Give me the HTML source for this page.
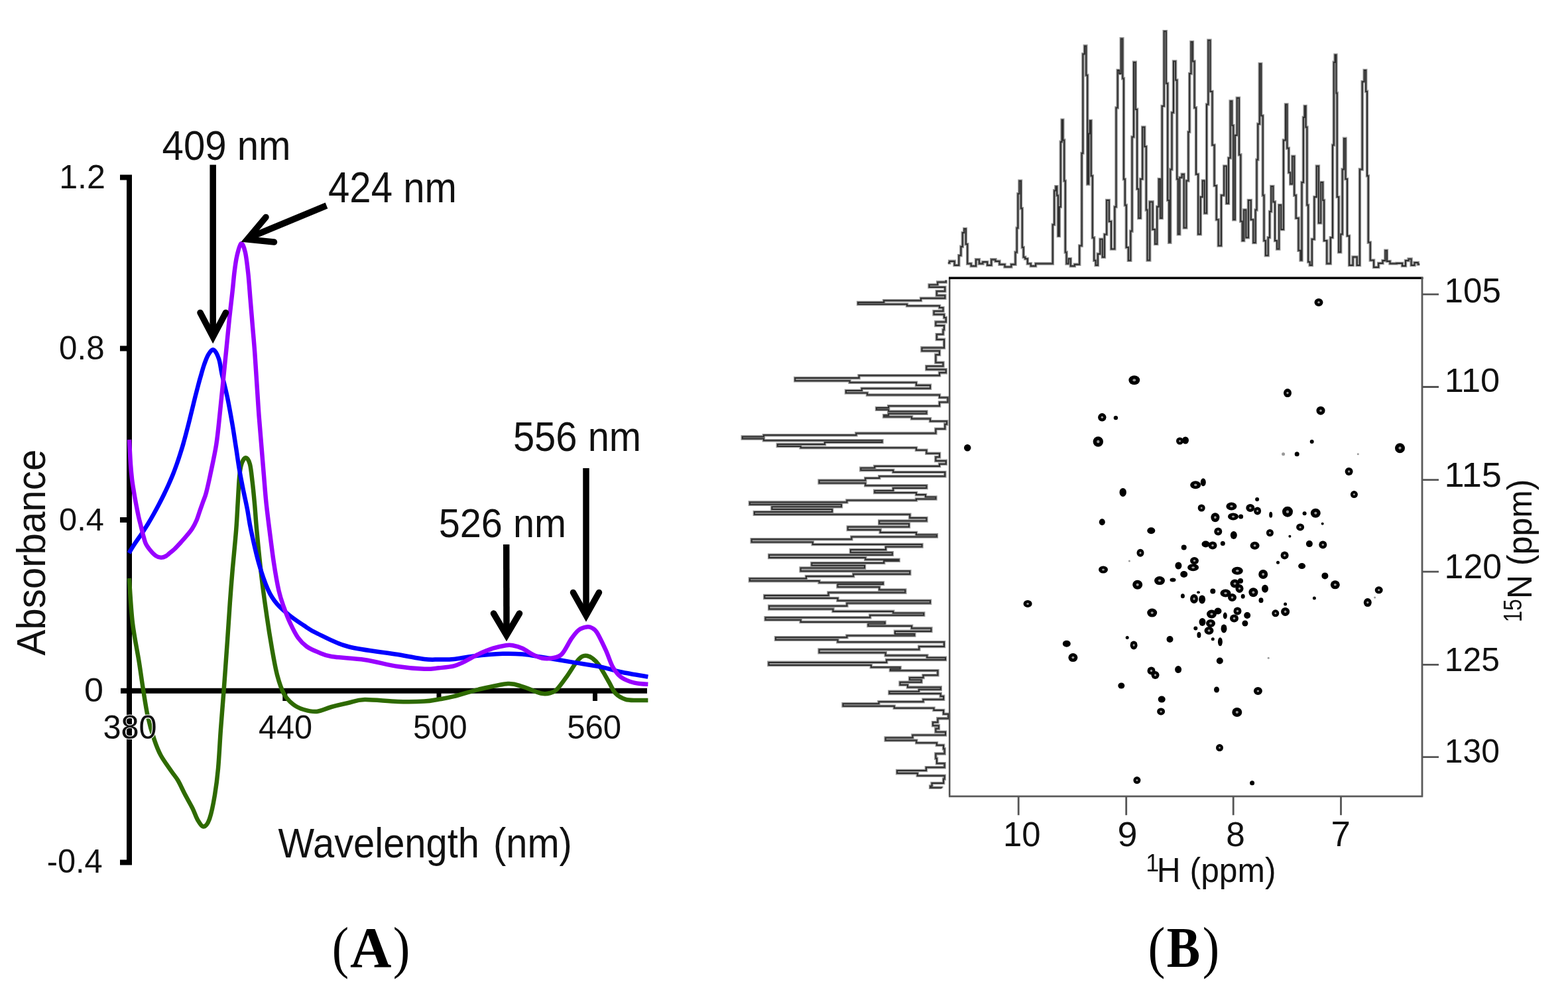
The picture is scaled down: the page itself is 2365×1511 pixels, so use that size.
<!DOCTYPE html>
<html><head><meta charset="utf-8"><title>Figure</title><style>html,body{margin:0;padding:0;background:#fff;overflow:hidden;}svg{display:block;}</style></head><body>
<svg width="2365" height="1511" viewBox="0 0 2365 1511">
<rect width="2365" height="1511" fill="#fff"/>
<g id="panelA">
<text x="89.17" y="283.70" font-family='"Liberation Sans", Arial, sans-serif' font-weight="normal" font-size="49.70" textLength="69.85" lengthAdjust="spacingAndGlyphs" fill="#111">1.2</text>
<text x="89.07" y="542.10" font-family='"Liberation Sans", Arial, sans-serif' font-weight="normal" font-size="49.70" textLength="68.57" lengthAdjust="spacingAndGlyphs" fill="#111">0.8</text>
<text x="89.09" y="799.50" font-family='"Liberation Sans", Arial, sans-serif' font-weight="normal" font-size="48.69" textLength="67.84" lengthAdjust="spacingAndGlyphs" fill="#111">0.4</text>
<text x="126.97" y="1058.30" font-family='"Liberation Sans", Arial, sans-serif' font-weight="normal" font-size="49.70" textLength="28.97" lengthAdjust="spacingAndGlyphs" fill="#111">0</text>
<text x="70.73" y="1316.00" font-family='"Liberation Sans", Arial, sans-serif' font-weight="normal" font-size="49.84" textLength="83.99" lengthAdjust="spacingAndGlyphs" fill="#111">-0.4</text>
<text x="389.98" y="1114.40" font-family='"Liberation Sans", Arial, sans-serif' font-weight="normal" font-size="49.70" textLength="81.22" lengthAdjust="spacingAndGlyphs" fill="#111">440</text>
<text x="623.04" y="1114.40" font-family='"Liberation Sans", Arial, sans-serif' font-weight="normal" font-size="49.70" textLength="81.57" lengthAdjust="spacingAndGlyphs" fill="#111">500</text>
<text x="855.13" y="1114.40" font-family='"Liberation Sans", Arial, sans-serif' font-weight="normal" font-size="49.70" textLength="82.09" lengthAdjust="spacingAndGlyphs" fill="#111">560</text>
<text x="419.45" y="1293.20" font-family='"Liberation Sans", Arial, sans-serif' font-weight="normal" font-size="63.52" textLength="303.59" lengthAdjust="spacingAndGlyphs" fill="#111">Wavelength</text>
<text x="743.91" y="1293.20" font-family='"Liberation Sans", Arial, sans-serif' font-weight="normal" font-size="63.52" textLength="118.98" lengthAdjust="spacingAndGlyphs" fill="#111">(nm)</text>
<text transform="rotate(-90)" x="-988.61" y="68.40" font-family='"Liberation Sans", Arial, sans-serif' font-weight="normal" font-size="60.58" textLength="310.90" lengthAdjust="spacingAndGlyphs" fill="#111">Absorbance</text>
<g stroke="#000" fill="none">
<path d="M181,267.5 H195 V1300.5 H181" stroke-width="8"/>
<path d="M181,525.5 H195 M181,784 H195" stroke-width="8"/>
<path d="M182,1041.7 H976" stroke-width="8"/>
<path d="M429.8,1041 V1057 M662,1041 V1057 M897.5,1041 V1057" stroke-width="7"/>
</g>
<path d="M194.8,872.0 C195.7,883.2 197.4,917.9 199.9,939.0 C202.4,960.1 207.2,982.0 209.8,998.5 C212.4,1015.0 213.5,1024.5 215.7,1038.0 C217.9,1051.5 220.0,1066.8 222.8,1079.7 C225.6,1092.6 229.4,1105.5 232.7,1115.4 C236.0,1125.3 238.3,1131.4 242.6,1139.3 C246.9,1147.2 254.2,1156.7 258.5,1163.0 C262.8,1169.3 265.2,1171.4 268.5,1177.0 C271.8,1182.6 274.8,1189.8 278.4,1196.8 C282.0,1203.8 287.0,1212.1 290.3,1218.7 C293.6,1225.3 295.4,1231.9 298.2,1236.5 C301.0,1241.1 304.2,1246.8 307.2,1246.5 C310.2,1246.2 313.3,1242.5 316.1,1234.6 C318.9,1226.6 321.9,1211.4 324.0,1198.8 C326.1,1186.2 327.5,1175.6 329.0,1159.1 C330.5,1142.6 331.5,1119.8 333.0,1099.6 C334.5,1079.4 336.2,1059.8 337.8,1038.0 C339.4,1016.2 341.3,990.3 342.8,968.8 C344.3,947.3 345.5,927.4 346.8,909.2 C348.1,891.0 349.1,878.0 350.7,859.6 C352.3,841.2 354.9,815.8 356.2,799.1 C357.5,782.4 357.8,772.6 358.6,759.4 C359.4,746.2 360.1,729.6 361.0,719.7 C361.9,709.8 362.6,704.8 364.2,699.9 C365.8,695.0 368.4,690.3 370.5,690.3 C372.6,690.3 375.2,693.7 376.9,699.9 C378.6,706.1 379.6,717.8 380.8,727.7 C382.0,737.6 382.9,747.5 384.0,759.4 C385.1,771.3 385.5,780.8 387.2,799.1 C388.9,817.5 391.9,847.9 394.4,869.5 C396.9,891.1 399.8,910.8 402.4,929.0 C405.0,947.2 407.7,963.8 410.3,978.7 C412.9,993.6 415.2,1007.1 418.2,1018.4 C421.2,1029.7 424.2,1038.9 428.2,1046.2 C432.2,1053.5 437.0,1058.0 442.0,1062.0 C447.0,1066.0 452.0,1068.2 458.0,1070.0 C464.0,1071.8 470.8,1073.7 477.8,1073.0 C484.8,1072.3 492.1,1068.2 500.0,1066.0 C507.9,1063.8 516.7,1061.8 525.0,1060.0 C533.3,1058.2 537.5,1055.3 550.0,1055.0 C562.5,1054.7 585.0,1057.6 600.0,1058.0 C615.0,1058.4 629.7,1058.2 640.0,1057.6 C650.3,1057.0 654.6,1055.7 662.0,1054.5 C669.4,1053.3 674.5,1052.7 684.4,1050.2 C694.3,1047.8 707.8,1043.0 721.4,1039.8 C735.0,1036.6 754.7,1031.7 765.8,1031.0 C776.9,1030.3 781.8,1033.7 788.0,1035.4 C794.2,1037.1 798.1,1039.3 803.0,1041.0 C807.9,1042.7 813.1,1045.1 817.6,1045.8 C822.1,1046.5 826.3,1046.0 830.0,1045.0 C833.7,1044.0 835.7,1043.9 839.8,1039.8 C843.9,1035.7 849.7,1027.5 854.6,1020.6 C859.5,1013.7 865.5,1003.5 869.4,998.4 C873.3,993.3 875.3,991.6 878.0,990.0 C880.7,988.4 883.0,988.5 885.7,989.0 C888.4,989.5 891.0,990.7 894.0,993.0 C897.0,995.3 899.4,997.0 903.4,1002.8 C907.4,1008.6 914.0,1020.8 918.2,1028.0 C922.4,1035.2 924.4,1041.4 928.6,1045.8 C932.8,1050.2 938.2,1052.9 943.4,1054.6 C948.6,1056.3 954.3,1055.8 960.0,1056.0 C965.7,1056.2 974.5,1056.1 977.4,1056.1" fill="none" stroke="#2e6a00" stroke-width="6.5" stroke-linejoin="round"/>
<path d="M194.5,834.0 C195.9,831.7 200.0,824.8 203.2,820.0 C206.4,815.2 210.3,810.0 213.6,805.0 C216.9,800.0 220.1,795.0 223.2,790.0 C226.2,785.0 229.1,780.0 231.9,775.0 C234.7,770.0 237.4,765.0 240.0,760.0 C242.6,755.0 245.2,750.0 247.6,745.0 C250.0,740.0 252.4,735.0 254.6,730.0 C256.8,725.0 259.0,720.0 261.0,715.0 C263.0,710.0 264.8,705.0 266.6,700.0 C268.4,695.0 270.0,690.0 271.6,685.0 C273.2,680.0 274.8,675.0 276.2,670.0 C277.6,665.0 279.0,660.0 280.3,655.0 C281.6,650.0 282.9,645.0 284.2,640.0 C285.5,635.0 286.7,630.0 287.9,625.0 C289.1,620.0 290.4,615.0 291.6,610.0 C292.8,605.0 294.0,600.0 295.3,595.0 C296.6,590.0 297.9,585.0 299.2,580.0 C300.5,575.0 301.9,570.0 303.4,565.0 C304.8,560.0 306.1,555.1 307.9,550.0 C309.7,544.9 312.0,538.2 314.4,534.5 C316.8,530.8 319.4,526.4 322.0,527.5 C324.6,528.6 328.0,535.2 330.1,541.2 C332.2,547.2 332.5,554.0 334.6,563.7 C336.8,573.4 340.4,586.7 343.0,599.4 C345.6,612.1 348.3,627.4 350.5,640.0 C352.7,652.6 354.2,663.7 356.0,675.0 C357.8,686.3 359.2,697.7 361.0,708.0 C362.8,718.3 364.5,727.1 366.5,737.0 C368.5,746.9 370.9,757.0 372.9,767.4 C374.9,777.8 375.6,785.4 378.5,799.1 C381.4,812.8 386.1,834.6 390.4,849.6 C394.7,864.6 399.7,879.0 404.3,889.3 C408.9,899.6 412.6,904.6 418.2,911.2 C423.8,917.8 431.4,923.7 438.0,929.0 C444.6,934.3 451.4,938.7 458.0,943.0 C464.6,947.3 466.6,949.6 477.8,954.9 C489.0,960.2 504.6,969.6 525.0,975.0 C545.4,980.4 580.8,983.8 600.0,987.0 C619.2,990.2 629.7,992.8 640.0,994.0 C650.3,995.2 654.6,994.5 662.0,994.5 C669.4,994.5 675.7,994.8 684.4,994.0 C693.1,993.2 701.7,990.9 714.0,989.5 C726.3,988.1 746.1,986.3 758.4,985.8 C770.7,985.3 778.1,985.7 788.0,986.6 C797.9,987.5 805.3,989.0 817.6,991.0 C829.9,993.0 847.2,995.9 862.0,998.4 C876.8,1000.9 894.1,1003.3 906.4,1005.8 C918.7,1008.3 924.2,1010.7 936.0,1013.2 C947.8,1015.7 970.5,1019.4 977.4,1020.6" fill="none" stroke="#0000ff" stroke-width="6.5" stroke-linejoin="round"/>
<path d="M195.0,663.0 C195.3,669.2 196.3,690.2 197.0,700.0 C197.7,709.8 198.2,715.0 199.0,722.0 C199.8,729.0 201.0,735.7 202.0,742.0 C203.0,748.3 204.0,753.7 205.2,760.0 C206.4,766.3 208.0,774.4 209.2,779.9 C210.4,785.4 211.4,788.7 212.5,793.1 C213.6,797.5 214.6,801.9 215.8,806.3 C217.0,810.7 218.0,815.7 219.8,819.6 C221.6,823.5 223.9,826.4 226.4,829.5 C228.9,832.6 232.2,836.2 235.0,838.1 C237.8,840.0 240.3,840.6 242.9,840.7 C245.5,840.8 248.2,839.7 250.5,838.5 C252.8,837.3 254.4,835.2 256.5,833.5 C258.6,831.8 260.4,830.7 263.2,828.0 C266.0,825.3 270.1,820.8 273.2,817.4 C276.3,814.0 279.1,810.8 281.8,807.5 C284.6,804.2 287.3,801.4 289.7,797.6 C292.1,793.9 294.3,789.6 296.3,785.0 C298.3,780.4 299.9,774.5 301.6,769.8 C303.3,765.0 304.8,760.9 306.3,756.5 C307.9,752.1 309.2,749.7 310.9,743.3 C312.6,736.9 314.1,730.2 316.7,718.1 C319.2,706.0 323.7,686.4 326.2,670.5 C328.7,654.6 330.0,638.8 331.7,622.9 C333.4,607.0 334.9,591.1 336.5,575.2 C338.1,559.3 339.7,543.5 341.3,527.6 C342.9,511.7 344.4,494.7 346.0,480.0 C347.6,465.3 349.3,451.1 350.6,439.4 C351.9,427.7 352.5,418.9 353.6,410.0 C354.7,401.1 355.7,393.1 357.4,386.0 C359.1,378.9 361.5,368.3 363.6,367.3 C365.7,366.3 368.0,372.3 369.8,379.9 C371.6,387.5 373.1,400.9 374.4,413.0 C375.7,425.1 376.6,439.4 377.7,452.6 C378.8,465.8 379.9,479.1 381.0,492.3 C382.1,505.5 383.2,516.8 384.3,532.0 C385.4,547.2 386.6,567.8 387.7,583.7 C388.8,599.6 389.5,612.8 390.6,627.3 C391.7,641.8 393.0,656.4 394.2,671.0 C395.4,685.6 396.6,700.7 397.8,714.7 C399.0,728.7 399.8,740.9 401.2,755.0 C402.6,769.1 404.5,783.9 406.5,799.6 C408.5,815.3 410.8,834.1 413.1,849.3 C415.4,864.5 418.0,879.6 420.5,890.6 C423.0,901.6 425.1,907.1 428.0,915.4 C430.9,923.7 434.3,932.5 437.9,940.2 C441.5,947.9 445.4,955.9 449.5,961.7 C453.6,967.5 457.7,971.4 462.7,975.0 C467.7,978.6 473.1,980.8 479.3,983.3 C485.5,985.8 488.2,988.0 500.0,990.0 C511.8,992.0 533.3,992.5 550.0,995.0 C566.7,997.5 585.0,1002.7 600.0,1005.0 C615.0,1007.3 629.6,1008.4 640.0,1008.8 C650.4,1009.2 654.8,1008.0 662.2,1007.3 C669.6,1006.5 678.2,1005.8 684.4,1004.3 C690.6,1002.8 693.0,1001.3 699.2,998.4 C705.4,995.5 714.0,990.0 721.4,986.6 C728.8,983.2 736.7,979.9 743.6,977.7 C750.5,975.5 758.1,974.0 763.0,973.2 C767.9,972.5 769.0,972.5 773.2,973.2 C777.4,974.0 783.1,975.5 788.0,977.7 C792.9,979.9 797.9,984.1 802.8,986.6 C807.7,989.1 812.7,991.5 817.6,992.5 C822.5,993.5 827.5,993.5 832.4,992.5 C837.3,991.5 842.3,991.5 847.2,986.6 C852.1,981.7 857.7,969.0 862.0,962.9 C866.3,956.8 869.2,952.9 873.0,950.0 C876.8,947.1 881.6,946.0 884.9,945.5 C888.2,945.0 890.4,945.6 893.0,947.0 C895.6,948.4 897.0,948.4 900.5,954.0 C904.0,959.6 909.8,972.0 913.8,980.6 C917.8,989.2 920.5,999.1 924.2,1005.8 C927.9,1012.5 931.6,1016.9 936.0,1020.6 C940.4,1024.3 945.9,1026.3 950.8,1028.0 C955.7,1029.7 961.2,1030.4 965.6,1031.0 C970.0,1031.6 975.4,1031.6 977.4,1031.7" fill="none" stroke="#9900ff" stroke-width="6.5" stroke-linejoin="round"/>
<g stroke="#000" fill="none" stroke-width="9.5" stroke-linejoin="miter" stroke-miterlimit="10">
<path d="M321.2,248.6 V505"/><path d="M302,471.5 L321.2,508 L340.5,471.5" stroke-linecap="round"/>
<path d="M492.5,310 L378,357.5"/><path d="M401,327.5 L373,361 L413.5,365" stroke-linecap="round"/>
<path d="M763.7,821 L764,955"/><path d="M744.5,925 L764,958 L783.5,925" stroke-linecap="round"/>
<path d="M884,706 V925"/><path d="M864.5,893.5 L884,928 L903.5,893.5" stroke-linecap="round"/>
</g>
<text x="155.45" y="1114.40" font-family='"Liberation Sans", Arial, sans-serif' font-weight="normal" font-size="49.70" textLength="81.15" lengthAdjust="spacingAndGlyphs" fill="#111" stroke="#fff" stroke-width="2.2" paint-order="stroke">380</text>
<text x="244.57" y="240.60" font-family='"Liberation Sans", Arial, sans-serif' font-weight="normal" font-size="62.59" textLength="193.97" lengthAdjust="spacingAndGlyphs" fill="#111">409 nm</text>
<text x="494.97" y="305.20" font-family='"Liberation Sans", Arial, sans-serif' font-weight="normal" font-size="64.02" textLength="193.97" lengthAdjust="spacingAndGlyphs" fill="#111">424 nm</text>
<text x="661.69" y="810.00" font-family='"Liberation Sans", Arial, sans-serif' font-weight="normal" font-size="61.15" textLength="192.41" lengthAdjust="spacingAndGlyphs" fill="#111">526 nm</text>
<text x="773.88" y="680.20" font-family='"Liberation Sans", Arial, sans-serif' font-weight="normal" font-size="62.30" textLength="193.24" lengthAdjust="spacingAndGlyphs" fill="#111">556 nm</text>
<text x="500.65" y="1457.70" font-family='"Liberation Serif", "Times New Roman", serif' font-weight="normal" font-size="87.40" textLength="25.41" lengthAdjust="spacingAndGlyphs" fill="#000">(</text>
<text x="528.06" y="1457.70" font-family='"Liberation Serif", "Times New Roman", serif' font-weight="bold" font-size="87.40" textLength="62.48" lengthAdjust="spacingAndGlyphs" fill="#000">A</text>
<text x="592.72" y="1457.70" font-family='"Liberation Serif", "Times New Roman", serif' font-weight="normal" font-size="87.40" textLength="25.67" lengthAdjust="spacingAndGlyphs" fill="#000">)</text>
</g>
<g id="panelB">
<path d="M1429.8,396.4 H1432.2 V393.9 H1434.7 H1439.6 V400.0 H1444.5 H1446.3 V385.3 H1448.2 H1449.4 V371.9 H1450.6 H1451.8 V351.0 H1453.1 H1454.3 V345.0 H1455.5 H1456.8 V368.2 H1458.0 H1459.2 V397.6 H1460.4 H1464.7 V401.3 H1469.0 H1472.0 V391.4 H1475.1 H1476.9 V397.6 H1478.8 H1482.4 V395.1 H1486.1 H1489.2 V400.0 H1492.3 H1495.3 V391.4 H1498.4 H1501.5 V393.9 H1504.5 H1507.5 V398.8 H1510.6 H1515.5 V402.5 H1520.4 H1525.3 V398.8 H1530.2 H1531.5 V380.4 H1532.7 H1533.7 V343.7 H1534.6 H1535.4 V292.3 H1536.3 H1537.5 V272.7 H1538.8 H1540.0 V314.3 H1541.2 H1541.8 V373.1 H1542.5 H1543.7 V387.8 H1544.9 H1546.2 V390.2 H1547.4 H1549.8 V397.6 H1552.3 H1554.8 V401.3 H1557.2 H1562.1 V397.6 H1567.0 H1573.1 V397.6 H1579.2 H1582.8 V397.6 H1586.5 H1587.8 V338.8 H1589.0 H1590.2 V287.4 H1591.4 H1592.4 V281.2 H1593.4 H1594.2 V294.7 H1595.1 H1595.9 V355.9 H1596.8 H1597.8 V311.9 H1598.8 H1599.8 V213.9 H1600.7 H1601.6 V180.8 H1602.5 H1603.3 V211.4 H1604.2 H1605.2 V272.7 H1606.1 H1606.8 V380.4 H1607.4 H1608.6 V397.6 H1609.8 H1611.7 V390.2 H1613.5 H1614.8 V401.3 H1616.0 H1620.8 V398.8 H1625.7 H1628.2 V370.6 H1630.6 H1631.6 V231.0 H1632.6 H1633.4 V81.6 H1634.3 H1635.9 V69.4 H1637.5 H1638.3 V113.5 H1639.2 H1640.2 V277.6 H1641.2 H1642.1 V201.6 H1642.9 H1643.8 V182.0 H1644.8 H1645.7 V265.3 H1646.5 H1647.8 V358.4 H1649.0 H1650.2 V392.7 H1651.4 H1652.7 V400.0 H1653.9 H1655.8 V382.9 H1657.6 H1659.4 V360.8 H1661.2 H1662.8 V387.8 H1664.4 H1665.9 V353.5 H1667.4 H1669.2 V302.1 H1671.0 H1672.8 V333.9 H1674.7 H1676.0 V375.5 H1677.2 H1678.7 V375.5 H1680.1 H1681.3 V311.9 H1682.6 H1683.5 V162.5 H1684.5 H1685.7 V106.1 H1686.9 H1688.2 V111.0 H1689.4 H1690.8 V58.4 H1692.3 H1693.3 V118.4 H1694.3 H1694.9 V270.2 H1695.5 H1696.8 V309.4 H1698.0 H1698.8 V373.1 H1699.7 H1701.9 V392.7 H1704.1 H1705.3 V348.6 H1706.5 H1707.5 V206.5 H1708.5 H1710.0 V93.9 H1711.4 H1712.7 V164.9 H1713.9 H1715.1 V284.9 H1716.3 H1717.4 V329.0 H1718.6 H1720.3 V270.0 H1722.0 H1723.2 V191.8 H1724.5 H1726.3 V221.0 H1728.2 H1728.8 V316.6 H1729.4 H1730.6 V392.5 H1731.8 H1734.2 V304.4 H1736.7 H1738.6 V346.0 H1740.4 H1742.2 V368.0 H1744.0 H1745.2 V311.7 H1746.5 H1747.8 V270.0 H1749.0 H1750.2 V328.9 H1751.4 H1752.7 V160.0 H1753.9 H1755.7 V47.3 H1757.5 H1758.8 V125.7 H1760.0 H1761.2 V302.0 H1762.4 H1763.2 V365.6 H1764.0 H1765.3 V255.4 H1766.6 H1767.5 V169.7 H1768.5 H1770.0 V92.6 H1771.5 H1773.1 V120.8 H1774.7 H1775.3 V270.0 H1775.9 H1776.8 V353.3 H1777.8 H1779.3 V267.7 H1780.8 H1782.7 V262.8 H1784.5 H1785.7 V343.5 H1786.9 H1789.3 V272.6 H1791.8 H1792.4 V199.0 H1793.0 H1794.2 V111.0 H1795.5 H1796.5 V63.3 H1797.4 H1798.9 V92.6 H1800.4 H1801.6 V162.4 H1802.8 H1804.0 V262.8 H1805.3 H1807.2 V353.3 H1809.0 H1810.8 V297.0 H1812.6 H1813.8 V272.6 H1815.0 H1816.8 V321.5 H1818.7 H1820.0 V157.5 H1821.2 H1822.4 V60.8 H1823.6 H1825.4 V138.0 H1827.3 H1828.5 V218.7 H1829.7 H1831.6 V280.0 H1833.4 H1834.7 V331.3 H1835.9 H1837.7 V370.5 H1839.5 H1842.0 V294.6 H1844.4 H1846.2 V250.5 H1848.1 H1849.9 V306.8 H1851.8 H1853.0 V238.3 H1854.2 H1855.7 V152.6 H1857.2 H1858.2 V189.3 H1859.1 H1860.3 V331.3 H1861.6 H1862.8 V204.0 H1864.0 H1865.8 V147.7 H1867.7 H1868.9 V233.4 H1870.1 H1871.3 V333.8 H1872.6 H1873.8 V363.0 H1875.0 H1876.2 V316.6 H1877.5 H1879.3 V358.2 H1881.1 H1882.9 V302.0 H1884.8 H1886.7 V331.3 H1888.5 H1890.4 V366.0 H1892.3 H1893.6 V316.6 H1894.9 H1895.5 V240.7 H1896.1 H1897.3 V186.9 H1898.6 H1899.8 V96.3 H1901.0 H1902.2 V174.6 H1903.5 H1904.7 V294.6 H1905.9 H1906.5 V363.0 H1907.1 H1908.9 V385.2 H1910.8 H1912.7 V358.2 H1914.5 H1915.1 V319.0 H1915.7 H1917.3 V281.1 H1918.9 H1920.3 V304.4 H1921.8 H1923.0 V363.0 H1924.3 H1926.1 V375.4 H1927.9 H1929.2 V309.3 H1930.4 H1932.2 V346.0 H1934.1 H1935.9 V211.4 H1937.7 H1939.0 V157.5 H1940.2 H1941.4 V223.6 H1942.6 H1943.8 V260.3 H1945.1 H1946.3 V277.5 H1947.5 H1949.3 V235.8 H1951.2 H1952.2 V294.6 H1953.2 H1954.7 V328.9 H1956.1 H1958.5 V377.8 H1961.0 H1961.6 V392.5 H1962.2 H1963.5 V275.0 H1964.7 H1965.9 V177.1 H1967.1 H1967.7 V160.0 H1968.3 H1969.5 V191.8 H1970.8 H1971.4 V309.3 H1972.0 H1973.2 V395.0 H1974.5 H1975.7 V399.9 H1976.9 H1978.8 V360.7 H1980.6 H1982.4 V297.0 H1984.2 H1985.8 V250.5 H1987.4 H1988.9 V336.2 H1990.4 H1992.2 V275.0 H1994.0 H1995.2 V302.0 H1996.5 H1997.1 V363.0 H1997.7 H2001.3 V397.4 H2005.0 H2006.8 V358.2 H2008.7 H2010.0 V218.7 H2011.2 H2011.8 V93.9 H2012.4 H2013.6 V82.8 H2014.8 H2015.4 V140.4 H2016.1 H2016.7 V297.0 H2017.3 H2019.2 V380.3 H2021.0 H2022.2 V353.3 H2023.4 H2024.7 V255.4 H2025.9 H2027.1 V208.9 H2028.3 H2029.5 V270.0 H2030.8 H2032.0 V355.8 H2033.2 H2035.1 V399.9 H2036.9 H2040.6 V387.6 H2044.2 H2046.7 V399.9 H2049.1 H2050.9 V255.4 H2052.8 H2054.7 V123.2 H2056.5 H2057.7 V106.1 H2058.9 H2060.2 V137.9 H2061.4 H2062.0 V265.2 H2062.6 H2063.8 V365.6 H2065.0 H2066.8 V392.5 H2068.7 H2072.1 V403.0 H2075.4 H2079.2 V397.0 H2083.0 H2085.5 V393.0 H2088.0 H2089.4 V377.8 H2090.9 H2091.9 V394.0 H2093.0 H2096.5 V397.5 H2100.0 H2106.5 V397.0 H2113.0 H2115.0 V401.0 H2117.0 H2120.0 V393.0 H2123.0 H2124.6 V390.5 H2126.2 H2128.6 V400.0 H2131.0 H2133.5 V396.0 H2136.0 H2138.7 V398.5 H2141.3" fill="none" stroke="#999" stroke-width="4.6" stroke-linejoin="miter"/>
<path d="M1426.7,422.6 V425.4 H1414.2 V428.1 V429.5 H1401.6 V430.9 V433.0 H1425.3 V435.1 V439.3 H1412.8 V443.5 V445.6 H1425.3 V447.7 V449.8 H1389.0 V451.9 V453.2 H1333.2 V454.6 V456.0 H1294.2 V457.4 V458.8 H1368.1 V460.2 V461.2 H1417.0 V462.3 V464.1 H1422.5 V465.8 V469.3 H1408.6 V472.8 V474.2 H1424.0 V475.6 V479.1 H1426.7 V482.6 V485.4 H1411.4 V488.1 V490.9 H1424.0 V493.7 V497.2 H1422.5 V500.7 V504.2 H1412.8 V507.7 V511.9 H1424.0 V516.0 V518.8 H1424.0 V521.6 V524.4 H1390.5 V527.2 V529.3 H1417.0 V531.4 V534.9 H1411.4 V538.4 V541.2 H1411.4 V544.0 V546.8 H1422.5 V549.5 V552.3 H1397.4 V555.1 V557.2 H1426.7 V559.3 V562.1 H1417.0 V564.9 V566.3 H1295.6 V567.7 V570.1 H1199.3 V572.5 V574.2 H1281.6 V576.0 V576.7 H1382.0 V577.4 V580.9 H1403.0 V584.4 V585.8 H1299.8 V587.2 V589.0 H1276.0 V590.7 V592.5 H1308.1 V594.2 V595.6 H1417.0 V597.0 V599.5 H1429.5 V601.9 V606.5 H1417.0 V611.2 V612.2 H1340.2 V613.3 V615.0 H1322.1 V616.7 V617.8 H1340.2 V618.8 V620.5 H1397.4 V622.3 V623.7 H1340.2 V625.1 V626.2 H1333.2 V627.2 V628.6 H1375.1 V630.0 V631.4 H1403.0 V632.8 V635.2 H1428.1 V637.7 V639.8 H1425.3 V641.9 V646.8 H1411.4 V651.6 V653.4 H1291.4 V655.1 V656.2 H1151.9 V657.2 V658.6 H1119.8 V660.0 V661.4 H1151.9 V662.8 V664.2 H1330.5 V665.6 V667.0 H1244.0 V668.4 V670.1 H1172.8 V671.9 V672.9 H1207.7 V673.9 V675.3 H1382.0 V676.7 V678.8 H1397.4 V680.9 V683.7 H1417.0 V686.5 V689.3 H1411.4 V692.1 V694.9 H1426.7 V697.7 V699.8 H1417.0 V701.9 V703.0 H1319.3 V704.0 V705.7 H1298.4 V707.4 V709.1 H1347.2 V710.9 V712.0 H1425.3 V713.0 V715.1 H1425.3 V717.2 V718.2 H1326.3 V719.3 V721.0 H1305.3 V722.8 V724.5 H1235.6 V726.3 V728.4 H1305.3 V730.5 V732.2 H1397.4 V733.9 V736.0 H1347.2 V738.1 V739.9 H1319.3 V741.6 V743.0 H1382.0 V744.4 V746.1 H1396.0 V747.9 V749.6 H1411.4 V751.4 V752.5 H1382.0 V753.5 V754.5 H1277.4 V755.6 V757.4 H1130.9 V759.1 V760.8 H1269.0 V762.5 V764.2 H1164.4 V766.0 V768.1 H1255.1 V770.2 V772.0 H1137.9 V773.7 V775.8 H1372.3 V777.9 V781.0 H1397.4 V784.2 V785.6 H1326.3 V787.0 V789.7 H1371.0 V792.4 V794.5 H1278.8 V796.5 V798.9 H1327.7 V801.2 V803.0 H1382.0 V804.7 V806.4 H1412.8 V808.1 V809.5 H1284.4 V810.9 V813.3 H1133.7 V815.8 V817.5 H1225.8 V819.3 V821.0 H1390.5 V822.8 V824.5 H1336.0 V826.3 V829.1 H1283.0 V831.9 V833.2 H1345.8 V834.6 V836.7 H1160.2 V838.8 V840.9 H1305.3 V843.0 V843.7 H1355.6 V844.4 V845.8 H1333.2 V847.2 V849.0 H1224.4 V850.7 V852.8 H1304.0 V854.9 V856.6 H1207.7 V858.4 V861.2 H1372.3 V864.0 V865.7 H1287.2 V867.4 V869.1 H1216.0 V870.9 V872.6 H1130.9 V874.4 V876.1 H1235.6 V877.9 V878.6 H1331.9 V879.3 V881.0 H1263.5 V882.8 V885.2 H1326.3 V887.7 V889.5 H1365.3 V891.2 V893.6 H1249.5 V896.0 V898.1 H1153.3 V900.2 V902.0 H1263.5 V903.7 V905.8 H1403.0 V907.9 V909.6 H1277.4 V911.4 V913.8 H1160.2 V916.3 V918.4 H1256.5 V920.5 V921.9 H1347.2 V923.2 V924.6 H1393.2 V926.0 V927.8 H1312.3 V929.5 V931.2 H1154.6 V933.0 V934.8 H1207.7 V936.5 V937.9 H1334.6 V939.3 V940.7 H1309.5 V942.1 V943.9 H1375.1 V945.6 V947.4 H1404.4 V949.1 V951.9 H1350.0 V954.6 V956.0 H1379.3 V957.4 V958.5 H1277.4 V959.5 V961.2 H1170.0 V963.0 V964.8 H1263.5 V966.5 V968.2 H1424.0 V970.0 V971.4 H1424.0 V972.8 V974.9 H1386.3 V977.0 V979.5 H1235.6 V981.9 V984.2 H1335.7 V986.6 V988.4 H1398.3 V990.2 V991.7 H1426.0 V993.1 V994.9 H1337.2 V996.7 V998.9 H1159.5 V1001.1 V1003.0 H1313.9 V1004.8 V1006.2 H1357.6 V1007.7 V1008.8 H1343.0 V1009.9 V1011.3 H1414.4 V1012.8 V1014.6 H1414.4 V1016.4 V1018.2 H1392.5 V1020.0 V1021.9 H1372.1 V1023.7 V1025.2 H1389.6 V1026.6 V1028.8 H1357.6 V1031.0 V1032.8 H1369.0 V1034.6 V1036.4 H1418.7 V1038.3 V1039.8 H1386.0 V1041.2 V1042.7 H1341.5 V1044.1 V1045.9 H1418.7 V1047.7 V1049.9 H1423.1 V1052.1 V1054.7 H1392.5 V1057.2 V1058.3 H1325.5 V1059.4 V1061.2 H1271.6 V1063.0 V1064.8 H1348.8 V1066.6 V1067.7 H1408.5 V1068.8 V1071.0 H1423.1 V1073.2 V1076.8 H1430.4 V1080.5 V1083.4 H1414.4 V1086.3 V1089.2 H1407.1 V1092.1 V1094.3 H1415.8 V1096.5 V1098.7 H1411.4 V1100.9 V1103.8 H1426.0 V1106.7 V1108.5 H1376.5 V1110.3 V1112.5 H1335.7 V1114.7 V1116.5 H1382.3 V1118.3 V1120.2 H1412.9 V1122.0 V1123.8 H1423.1 V1125.6 V1129.2 H1424.6 V1132.9 V1136.6 H1411.4 V1140.2 V1143.8 H1413.0 V1147.5 V1151.2 H1424.6 V1154.8 V1157.3 H1396.9 V1159.8 V1162.0 H1353.2 V1164.2 V1166.1 H1383.8 V1167.9 V1169.7 H1424.6 V1171.5 V1174.8 H1423.1 V1178.0 V1181.0 H1405.6 V1183.9 V1185.5 H1403.2 V1187.0 V1187.8 H1420.2 V1188.5" fill="none" stroke="#999" stroke-width="4.6" stroke-linejoin="miter"/>
<path d="M1429.8,396.4 H1432.2 V393.9 H1434.7 H1439.6 V400.0 H1444.5 H1446.3 V385.3 H1448.2 H1449.4 V371.9 H1450.6 H1451.8 V351.0 H1453.1 H1454.3 V345.0 H1455.5 H1456.8 V368.2 H1458.0 H1459.2 V397.6 H1460.4 H1464.7 V401.3 H1469.0 H1472.0 V391.4 H1475.1 H1476.9 V397.6 H1478.8 H1482.4 V395.1 H1486.1 H1489.2 V400.0 H1492.3 H1495.3 V391.4 H1498.4 H1501.5 V393.9 H1504.5 H1507.5 V398.8 H1510.6 H1515.5 V402.5 H1520.4 H1525.3 V398.8 H1530.2 H1531.5 V380.4 H1532.7 H1533.7 V343.7 H1534.6 H1535.4 V292.3 H1536.3 H1537.5 V272.7 H1538.8 H1540.0 V314.3 H1541.2 H1541.8 V373.1 H1542.5 H1543.7 V387.8 H1544.9 H1546.2 V390.2 H1547.4 H1549.8 V397.6 H1552.3 H1554.8 V401.3 H1557.2 H1562.1 V397.6 H1567.0 H1573.1 V397.6 H1579.2 H1582.8 V397.6 H1586.5 H1587.8 V338.8 H1589.0 H1590.2 V287.4 H1591.4 H1592.4 V281.2 H1593.4 H1594.2 V294.7 H1595.1 H1595.9 V355.9 H1596.8 H1597.8 V311.9 H1598.8 H1599.8 V213.9 H1600.7 H1601.6 V180.8 H1602.5 H1603.3 V211.4 H1604.2 H1605.2 V272.7 H1606.1 H1606.8 V380.4 H1607.4 H1608.6 V397.6 H1609.8 H1611.7 V390.2 H1613.5 H1614.8 V401.3 H1616.0 H1620.8 V398.8 H1625.7 H1628.2 V370.6 H1630.6 H1631.6 V231.0 H1632.6 H1633.4 V81.6 H1634.3 H1635.9 V69.4 H1637.5 H1638.3 V113.5 H1639.2 H1640.2 V277.6 H1641.2 H1642.1 V201.6 H1642.9 H1643.8 V182.0 H1644.8 H1645.7 V265.3 H1646.5 H1647.8 V358.4 H1649.0 H1650.2 V392.7 H1651.4 H1652.7 V400.0 H1653.9 H1655.8 V382.9 H1657.6 H1659.4 V360.8 H1661.2 H1662.8 V387.8 H1664.4 H1665.9 V353.5 H1667.4 H1669.2 V302.1 H1671.0 H1672.8 V333.9 H1674.7 H1676.0 V375.5 H1677.2 H1678.7 V375.5 H1680.1 H1681.3 V311.9 H1682.6 H1683.5 V162.5 H1684.5 H1685.7 V106.1 H1686.9 H1688.2 V111.0 H1689.4 H1690.8 V58.4 H1692.3 H1693.3 V118.4 H1694.3 H1694.9 V270.2 H1695.5 H1696.8 V309.4 H1698.0 H1698.8 V373.1 H1699.7 H1701.9 V392.7 H1704.1 H1705.3 V348.6 H1706.5 H1707.5 V206.5 H1708.5 H1710.0 V93.9 H1711.4 H1712.7 V164.9 H1713.9 H1715.1 V284.9 H1716.3 H1717.4 V329.0 H1718.6 H1720.3 V270.0 H1722.0 H1723.2 V191.8 H1724.5 H1726.3 V221.0 H1728.2 H1728.8 V316.6 H1729.4 H1730.6 V392.5 H1731.8 H1734.2 V304.4 H1736.7 H1738.6 V346.0 H1740.4 H1742.2 V368.0 H1744.0 H1745.2 V311.7 H1746.5 H1747.8 V270.0 H1749.0 H1750.2 V328.9 H1751.4 H1752.7 V160.0 H1753.9 H1755.7 V47.3 H1757.5 H1758.8 V125.7 H1760.0 H1761.2 V302.0 H1762.4 H1763.2 V365.6 H1764.0 H1765.3 V255.4 H1766.6 H1767.5 V169.7 H1768.5 H1770.0 V92.6 H1771.5 H1773.1 V120.8 H1774.7 H1775.3 V270.0 H1775.9 H1776.8 V353.3 H1777.8 H1779.3 V267.7 H1780.8 H1782.7 V262.8 H1784.5 H1785.7 V343.5 H1786.9 H1789.3 V272.6 H1791.8 H1792.4 V199.0 H1793.0 H1794.2 V111.0 H1795.5 H1796.5 V63.3 H1797.4 H1798.9 V92.6 H1800.4 H1801.6 V162.4 H1802.8 H1804.0 V262.8 H1805.3 H1807.2 V353.3 H1809.0 H1810.8 V297.0 H1812.6 H1813.8 V272.6 H1815.0 H1816.8 V321.5 H1818.7 H1820.0 V157.5 H1821.2 H1822.4 V60.8 H1823.6 H1825.4 V138.0 H1827.3 H1828.5 V218.7 H1829.7 H1831.6 V280.0 H1833.4 H1834.7 V331.3 H1835.9 H1837.7 V370.5 H1839.5 H1842.0 V294.6 H1844.4 H1846.2 V250.5 H1848.1 H1849.9 V306.8 H1851.8 H1853.0 V238.3 H1854.2 H1855.7 V152.6 H1857.2 H1858.2 V189.3 H1859.1 H1860.3 V331.3 H1861.6 H1862.8 V204.0 H1864.0 H1865.8 V147.7 H1867.7 H1868.9 V233.4 H1870.1 H1871.3 V333.8 H1872.6 H1873.8 V363.0 H1875.0 H1876.2 V316.6 H1877.5 H1879.3 V358.2 H1881.1 H1882.9 V302.0 H1884.8 H1886.7 V331.3 H1888.5 H1890.4 V366.0 H1892.3 H1893.6 V316.6 H1894.9 H1895.5 V240.7 H1896.1 H1897.3 V186.9 H1898.6 H1899.8 V96.3 H1901.0 H1902.2 V174.6 H1903.5 H1904.7 V294.6 H1905.9 H1906.5 V363.0 H1907.1 H1908.9 V385.2 H1910.8 H1912.7 V358.2 H1914.5 H1915.1 V319.0 H1915.7 H1917.3 V281.1 H1918.9 H1920.3 V304.4 H1921.8 H1923.0 V363.0 H1924.3 H1926.1 V375.4 H1927.9 H1929.2 V309.3 H1930.4 H1932.2 V346.0 H1934.1 H1935.9 V211.4 H1937.7 H1939.0 V157.5 H1940.2 H1941.4 V223.6 H1942.6 H1943.8 V260.3 H1945.1 H1946.3 V277.5 H1947.5 H1949.3 V235.8 H1951.2 H1952.2 V294.6 H1953.2 H1954.7 V328.9 H1956.1 H1958.5 V377.8 H1961.0 H1961.6 V392.5 H1962.2 H1963.5 V275.0 H1964.7 H1965.9 V177.1 H1967.1 H1967.7 V160.0 H1968.3 H1969.5 V191.8 H1970.8 H1971.4 V309.3 H1972.0 H1973.2 V395.0 H1974.5 H1975.7 V399.9 H1976.9 H1978.8 V360.7 H1980.6 H1982.4 V297.0 H1984.2 H1985.8 V250.5 H1987.4 H1988.9 V336.2 H1990.4 H1992.2 V275.0 H1994.0 H1995.2 V302.0 H1996.5 H1997.1 V363.0 H1997.7 H2001.3 V397.4 H2005.0 H2006.8 V358.2 H2008.7 H2010.0 V218.7 H2011.2 H2011.8 V93.9 H2012.4 H2013.6 V82.8 H2014.8 H2015.4 V140.4 H2016.1 H2016.7 V297.0 H2017.3 H2019.2 V380.3 H2021.0 H2022.2 V353.3 H2023.4 H2024.7 V255.4 H2025.9 H2027.1 V208.9 H2028.3 H2029.5 V270.0 H2030.8 H2032.0 V355.8 H2033.2 H2035.1 V399.9 H2036.9 H2040.6 V387.6 H2044.2 H2046.7 V399.9 H2049.1 H2050.9 V255.4 H2052.8 H2054.7 V123.2 H2056.5 H2057.7 V106.1 H2058.9 H2060.2 V137.9 H2061.4 H2062.0 V265.2 H2062.6 H2063.8 V365.6 H2065.0 H2066.8 V392.5 H2068.7 H2072.1 V403.0 H2075.4 H2079.2 V397.0 H2083.0 H2085.5 V393.0 H2088.0 H2089.4 V377.8 H2090.9 H2091.9 V394.0 H2093.0 H2096.5 V397.5 H2100.0 H2106.5 V397.0 H2113.0 H2115.0 V401.0 H2117.0 H2120.0 V393.0 H2123.0 H2124.6 V390.5 H2126.2 H2128.6 V400.0 H2131.0 H2133.5 V396.0 H2136.0 H2138.7 V398.5 H2141.3" fill="none" stroke="#2e2e2e" stroke-width="2.0" stroke-linejoin="miter"/>
<path d="M1426.7,422.6 V425.4 H1414.2 V428.1 V429.5 H1401.6 V430.9 V433.0 H1425.3 V435.1 V439.3 H1412.8 V443.5 V445.6 H1425.3 V447.7 V449.8 H1389.0 V451.9 V453.2 H1333.2 V454.6 V456.0 H1294.2 V457.4 V458.8 H1368.1 V460.2 V461.2 H1417.0 V462.3 V464.1 H1422.5 V465.8 V469.3 H1408.6 V472.8 V474.2 H1424.0 V475.6 V479.1 H1426.7 V482.6 V485.4 H1411.4 V488.1 V490.9 H1424.0 V493.7 V497.2 H1422.5 V500.7 V504.2 H1412.8 V507.7 V511.9 H1424.0 V516.0 V518.8 H1424.0 V521.6 V524.4 H1390.5 V527.2 V529.3 H1417.0 V531.4 V534.9 H1411.4 V538.4 V541.2 H1411.4 V544.0 V546.8 H1422.5 V549.5 V552.3 H1397.4 V555.1 V557.2 H1426.7 V559.3 V562.1 H1417.0 V564.9 V566.3 H1295.6 V567.7 V570.1 H1199.3 V572.5 V574.2 H1281.6 V576.0 V576.7 H1382.0 V577.4 V580.9 H1403.0 V584.4 V585.8 H1299.8 V587.2 V589.0 H1276.0 V590.7 V592.5 H1308.1 V594.2 V595.6 H1417.0 V597.0 V599.5 H1429.5 V601.9 V606.5 H1417.0 V611.2 V612.2 H1340.2 V613.3 V615.0 H1322.1 V616.7 V617.8 H1340.2 V618.8 V620.5 H1397.4 V622.3 V623.7 H1340.2 V625.1 V626.2 H1333.2 V627.2 V628.6 H1375.1 V630.0 V631.4 H1403.0 V632.8 V635.2 H1428.1 V637.7 V639.8 H1425.3 V641.9 V646.8 H1411.4 V651.6 V653.4 H1291.4 V655.1 V656.2 H1151.9 V657.2 V658.6 H1119.8 V660.0 V661.4 H1151.9 V662.8 V664.2 H1330.5 V665.6 V667.0 H1244.0 V668.4 V670.1 H1172.8 V671.9 V672.9 H1207.7 V673.9 V675.3 H1382.0 V676.7 V678.8 H1397.4 V680.9 V683.7 H1417.0 V686.5 V689.3 H1411.4 V692.1 V694.9 H1426.7 V697.7 V699.8 H1417.0 V701.9 V703.0 H1319.3 V704.0 V705.7 H1298.4 V707.4 V709.1 H1347.2 V710.9 V712.0 H1425.3 V713.0 V715.1 H1425.3 V717.2 V718.2 H1326.3 V719.3 V721.0 H1305.3 V722.8 V724.5 H1235.6 V726.3 V728.4 H1305.3 V730.5 V732.2 H1397.4 V733.9 V736.0 H1347.2 V738.1 V739.9 H1319.3 V741.6 V743.0 H1382.0 V744.4 V746.1 H1396.0 V747.9 V749.6 H1411.4 V751.4 V752.5 H1382.0 V753.5 V754.5 H1277.4 V755.6 V757.4 H1130.9 V759.1 V760.8 H1269.0 V762.5 V764.2 H1164.4 V766.0 V768.1 H1255.1 V770.2 V772.0 H1137.9 V773.7 V775.8 H1372.3 V777.9 V781.0 H1397.4 V784.2 V785.6 H1326.3 V787.0 V789.7 H1371.0 V792.4 V794.5 H1278.8 V796.5 V798.9 H1327.7 V801.2 V803.0 H1382.0 V804.7 V806.4 H1412.8 V808.1 V809.5 H1284.4 V810.9 V813.3 H1133.7 V815.8 V817.5 H1225.8 V819.3 V821.0 H1390.5 V822.8 V824.5 H1336.0 V826.3 V829.1 H1283.0 V831.9 V833.2 H1345.8 V834.6 V836.7 H1160.2 V838.8 V840.9 H1305.3 V843.0 V843.7 H1355.6 V844.4 V845.8 H1333.2 V847.2 V849.0 H1224.4 V850.7 V852.8 H1304.0 V854.9 V856.6 H1207.7 V858.4 V861.2 H1372.3 V864.0 V865.7 H1287.2 V867.4 V869.1 H1216.0 V870.9 V872.6 H1130.9 V874.4 V876.1 H1235.6 V877.9 V878.6 H1331.9 V879.3 V881.0 H1263.5 V882.8 V885.2 H1326.3 V887.7 V889.5 H1365.3 V891.2 V893.6 H1249.5 V896.0 V898.1 H1153.3 V900.2 V902.0 H1263.5 V903.7 V905.8 H1403.0 V907.9 V909.6 H1277.4 V911.4 V913.8 H1160.2 V916.3 V918.4 H1256.5 V920.5 V921.9 H1347.2 V923.2 V924.6 H1393.2 V926.0 V927.8 H1312.3 V929.5 V931.2 H1154.6 V933.0 V934.8 H1207.7 V936.5 V937.9 H1334.6 V939.3 V940.7 H1309.5 V942.1 V943.9 H1375.1 V945.6 V947.4 H1404.4 V949.1 V951.9 H1350.0 V954.6 V956.0 H1379.3 V957.4 V958.5 H1277.4 V959.5 V961.2 H1170.0 V963.0 V964.8 H1263.5 V966.5 V968.2 H1424.0 V970.0 V971.4 H1424.0 V972.8 V974.9 H1386.3 V977.0 V979.5 H1235.6 V981.9 V984.2 H1335.7 V986.6 V988.4 H1398.3 V990.2 V991.7 H1426.0 V993.1 V994.9 H1337.2 V996.7 V998.9 H1159.5 V1001.1 V1003.0 H1313.9 V1004.8 V1006.2 H1357.6 V1007.7 V1008.8 H1343.0 V1009.9 V1011.3 H1414.4 V1012.8 V1014.6 H1414.4 V1016.4 V1018.2 H1392.5 V1020.0 V1021.9 H1372.1 V1023.7 V1025.2 H1389.6 V1026.6 V1028.8 H1357.6 V1031.0 V1032.8 H1369.0 V1034.6 V1036.4 H1418.7 V1038.3 V1039.8 H1386.0 V1041.2 V1042.7 H1341.5 V1044.1 V1045.9 H1418.7 V1047.7 V1049.9 H1423.1 V1052.1 V1054.7 H1392.5 V1057.2 V1058.3 H1325.5 V1059.4 V1061.2 H1271.6 V1063.0 V1064.8 H1348.8 V1066.6 V1067.7 H1408.5 V1068.8 V1071.0 H1423.1 V1073.2 V1076.8 H1430.4 V1080.5 V1083.4 H1414.4 V1086.3 V1089.2 H1407.1 V1092.1 V1094.3 H1415.8 V1096.5 V1098.7 H1411.4 V1100.9 V1103.8 H1426.0 V1106.7 V1108.5 H1376.5 V1110.3 V1112.5 H1335.7 V1114.7 V1116.5 H1382.3 V1118.3 V1120.2 H1412.9 V1122.0 V1123.8 H1423.1 V1125.6 V1129.2 H1424.6 V1132.9 V1136.6 H1411.4 V1140.2 V1143.8 H1413.0 V1147.5 V1151.2 H1424.6 V1154.8 V1157.3 H1396.9 V1159.8 V1162.0 H1353.2 V1164.2 V1166.1 H1383.8 V1167.9 V1169.7 H1424.6 V1171.5 V1174.8 H1423.1 V1178.0 V1181.0 H1405.6 V1183.9 V1185.5 H1403.2 V1187.0 V1187.8 H1420.2 V1188.5" fill="none" stroke="#2e2e2e" stroke-width="2.0" stroke-linejoin="miter"/>
<path d="M1432.2,1201 V419.5" stroke="#505050" stroke-width="2.6" fill="none"/>
<path d="M1431,419.3 H2146.5" stroke="#000" stroke-width="3.6" fill="none"/>
<path d="M2145,418 V1201 M1431,1200.9 H2146.3" stroke="#5a5a5a" stroke-width="2.8" fill="none"/>
<path d="M2146,443.8 H2170 M2146,583.5 H2170 M2146,723.6 H2170 M2146,862.2 H2170 M2146,1002.4 H2170 M2146,1141.6 H2170" stroke="#555" stroke-width="2.8"/>
<path d="M1536.2,1201 V1229.3 M1698.7,1201 V1229.3 M1860.2,1201 V1229.3 M2022.5,1201 V1229.3" stroke="#555" stroke-width="2.8"/>
<ellipse cx="1710.8" cy="573.3" rx="8.4" ry="7" fill="#000"/>
<ellipse cx="1710.8" cy="573.3" rx="2.4" ry="2.0" fill="#9a9a9a"/>
<ellipse cx="1662.3" cy="629.3" rx="6.2" ry="6.2" fill="#000"/>
<ellipse cx="1662.3" cy="629.3" rx="1.7" ry="1.7" fill="#9a9a9a"/>
<ellipse cx="1682.9" cy="630.1" rx="3.2" ry="3.2" fill="#000"/>
<ellipse cx="1656.3" cy="666" rx="7.7" ry="7.7" fill="#000"/>
<ellipse cx="1656.3" cy="666" rx="2.2" ry="2.2" fill="#9a9a9a"/>
<ellipse cx="1779.5" cy="665" rx="5.5" ry="5.5" fill="#000"/>
<ellipse cx="1779.5" cy="665" rx="1.5" ry="1.5" fill="#9a9a9a"/>
<ellipse cx="1788" cy="664" rx="5" ry="5.5" fill="#000"/>
<ellipse cx="1459.2" cy="675.3" rx="5.2" ry="5.2" fill="#000"/>
<ellipse cx="1693.7" cy="742.4" rx="5.2" ry="6.5" fill="#000"/>
<ellipse cx="1662.3" cy="787.3" rx="4.5" ry="5" fill="#000"/>
<ellipse cx="1736.3" cy="800.2" rx="6" ry="5" fill="#000"/>
<ellipse cx="1989" cy="455.9" rx="6.5" ry="6" fill="#000"/>
<ellipse cx="1989" cy="455.9" rx="1.8" ry="1.7" fill="#9a9a9a"/>
<ellipse cx="1942" cy="592.6" rx="6" ry="6.5" fill="#000"/>
<ellipse cx="1942" cy="592.6" rx="1.7" ry="1.8" fill="#9a9a9a"/>
<ellipse cx="1992" cy="619.2" rx="6.5" ry="6.5" fill="#000"/>
<ellipse cx="1992" cy="619.2" rx="1.8" ry="1.8" fill="#9a9a9a"/>
<ellipse cx="1978.7" cy="665.9" rx="3" ry="3" fill="#000"/>
<ellipse cx="1956.2" cy="684.7" rx="3.5" ry="3.5" fill="#000"/>
<ellipse cx="2111.5" cy="675.7" rx="7.5" ry="7.5" fill="#000"/>
<ellipse cx="2111.5" cy="675.7" rx="2.1" ry="2.1" fill="#9a9a9a"/>
<ellipse cx="2034.6" cy="711" rx="6" ry="6" fill="#000"/>
<ellipse cx="2034.6" cy="711" rx="1.7" ry="1.7" fill="#9a9a9a"/>
<ellipse cx="2042.4" cy="745.6" rx="5.5" ry="5.5" fill="#000"/>
<ellipse cx="2042.4" cy="745.6" rx="1.5" ry="1.5" fill="#9a9a9a"/>
<ellipse cx="1803.2" cy="731.2" rx="8" ry="6" fill="#000"/>
<ellipse cx="1803.2" cy="731.2" rx="2.2" ry="1.7" fill="#9a9a9a"/>
<ellipse cx="1814.8" cy="727.3" rx="4" ry="6" fill="#000"/>
<ellipse cx="1812.2" cy="766" rx="5.5" ry="5.5" fill="#000"/>
<ellipse cx="1812.2" cy="766" rx="1.5" ry="1.5" fill="#9a9a9a"/>
<ellipse cx="1857.4" cy="763.4" rx="8" ry="6" fill="#000"/>
<ellipse cx="1857.4" cy="763.4" rx="2.2" ry="1.7" fill="#9a9a9a"/>
<ellipse cx="1896.1" cy="753.1" rx="3" ry="3" fill="#000"/>
<ellipse cx="1885.8" cy="766" rx="6.5" ry="6" fill="#000"/>
<ellipse cx="1885.8" cy="766" rx="1.8" ry="1.7" fill="#9a9a9a"/>
<ellipse cx="1896.6" cy="770.4" rx="5.5" ry="6" fill="#000"/>
<ellipse cx="1896.6" cy="770.4" rx="1.5" ry="1.7" fill="#9a9a9a"/>
<ellipse cx="1832.9" cy="780.2" rx="6.5" ry="7" fill="#000"/>
<ellipse cx="1832.9" cy="780.2" rx="1.8" ry="2.0" fill="#9a9a9a"/>
<ellipse cx="1860" cy="778.9" rx="8" ry="5.5" fill="#000"/>
<ellipse cx="1860" cy="778.9" rx="2.2" ry="1.5" fill="#9a9a9a"/>
<ellipse cx="1871.6" cy="778.9" rx="3.5" ry="3.5" fill="#000"/>
<ellipse cx="1916.7" cy="776.3" rx="2.5" ry="4.5" fill="#000"/>
<ellipse cx="1942" cy="771.7" rx="8" ry="8" fill="#000"/>
<ellipse cx="1942" cy="771.7" rx="2.2" ry="2.2" fill="#9a9a9a"/>
<ellipse cx="1967.6" cy="774.3" rx="3" ry="3" fill="#000"/>
<ellipse cx="1984.3" cy="773.7" rx="7.5" ry="7" fill="#000"/>
<ellipse cx="1984.3" cy="773.7" rx="2.1" ry="2.0" fill="#9a9a9a"/>
<ellipse cx="1994.7" cy="789.7" rx="2" ry="2" fill="#000"/>
<ellipse cx="1961.1" cy="794.9" rx="6" ry="5.5" fill="#000"/>
<ellipse cx="1961.1" cy="794.9" rx="1.7" ry="1.5" fill="#9a9a9a"/>
<ellipse cx="1837.3" cy="801.4" rx="6" ry="6" fill="#000"/>
<ellipse cx="1837.3" cy="801.4" rx="1.7" ry="1.7" fill="#9a9a9a"/>
<ellipse cx="1860.8" cy="807" rx="5" ry="6" fill="#000"/>
<ellipse cx="1915.4" cy="803.5" rx="5.5" ry="5.5" fill="#000"/>
<ellipse cx="1915.4" cy="803.5" rx="1.5" ry="1.5" fill="#9a9a9a"/>
<ellipse cx="1945.4" cy="808.8" rx="2" ry="2" fill="#000"/>
<ellipse cx="1720" cy="833.8" rx="5.5" ry="6" fill="#000"/>
<ellipse cx="1720" cy="833.8" rx="1.5" ry="1.7" fill="#9a9a9a"/>
<ellipse cx="1664" cy="859" rx="7" ry="5.5" fill="#000"/>
<ellipse cx="1664" cy="859" rx="2.0" ry="1.5" fill="#9a9a9a"/>
<ellipse cx="1715.7" cy="881.7" rx="7.5" ry="7" fill="#000"/>
<ellipse cx="1715.7" cy="881.7" rx="2.1" ry="2.0" fill="#9a9a9a"/>
<ellipse cx="1749" cy="875.6" rx="8" ry="6.5" fill="#000"/>
<ellipse cx="1749" cy="875.6" rx="2.2" ry="1.8" fill="#9a9a9a"/>
<ellipse cx="1769" cy="874.5" rx="4.5" ry="3" fill="#000"/>
<ellipse cx="1785.7" cy="825.5" rx="4" ry="4" fill="#000"/>
<ellipse cx="1550.1" cy="910.4" rx="6.5" ry="5.5" fill="#000"/>
<ellipse cx="1550.1" cy="910.4" rx="1.8" ry="1.5" fill="#9a9a9a"/>
<ellipse cx="1737.7" cy="924.1" rx="7.5" ry="6.5" fill="#000"/>
<ellipse cx="1737.7" cy="924.1" rx="2.1" ry="1.8" fill="#9a9a9a"/>
<ellipse cx="1608.8" cy="970.7" rx="6" ry="5" fill="#000"/>
<ellipse cx="1618.4" cy="991.6" rx="7" ry="6.5" fill="#000"/>
<ellipse cx="1618.4" cy="991.6" rx="2.0" ry="1.8" fill="#9a9a9a"/>
<ellipse cx="1700.2" cy="961.6" rx="2.5" ry="2.5" fill="#000"/>
<ellipse cx="1710.1" cy="972.9" rx="5.5" ry="6.5" fill="#000"/>
<ellipse cx="1710.1" cy="972.9" rx="1.5" ry="1.8" fill="#9a9a9a"/>
<ellipse cx="1764.5" cy="964" rx="5" ry="5" fill="#000"/>
<ellipse cx="1736.5" cy="1011.5" rx="6" ry="6" fill="#000"/>
<ellipse cx="1736.5" cy="1011.5" rx="1.7" ry="1.7" fill="#9a9a9a"/>
<ellipse cx="1742.5" cy="1018" rx="6" ry="6" fill="#000"/>
<ellipse cx="1742.5" cy="1018" rx="1.7" ry="1.7" fill="#9a9a9a"/>
<ellipse cx="1777.1" cy="1009.6" rx="5" ry="5.5" fill="#000"/>
<ellipse cx="1691.3" cy="1034" rx="5" ry="4.5" fill="#000"/>
<ellipse cx="1752.2" cy="1054.6" rx="5.5" ry="5" fill="#000"/>
<ellipse cx="1751.1" cy="1072.9" rx="6" ry="5.5" fill="#000"/>
<ellipse cx="1751.1" cy="1072.9" rx="1.7" ry="1.5" fill="#9a9a9a"/>
<ellipse cx="1714.9" cy="1176.6" rx="5.5" ry="5.5" fill="#000"/>
<ellipse cx="1714.9" cy="1176.6" rx="1.5" ry="1.5" fill="#9a9a9a"/>
<ellipse cx="1818.5" cy="820.5" rx="6" ry="5" fill="#000"/>
<ellipse cx="1829" cy="822.5" rx="6.5" ry="6" fill="#000"/>
<ellipse cx="1829" cy="822.5" rx="1.8" ry="1.7" fill="#9a9a9a"/>
<ellipse cx="1844.3" cy="819.6" rx="3.5" ry="3.5" fill="#000"/>
<ellipse cx="1892.6" cy="822.8" rx="7" ry="6" fill="#000"/>
<ellipse cx="1892.6" cy="822.8" rx="2.0" ry="1.7" fill="#9a9a9a"/>
<ellipse cx="1974.9" cy="820.1" rx="5" ry="5" fill="#000"/>
<ellipse cx="1995.3" cy="821.4" rx="6" ry="6" fill="#000"/>
<ellipse cx="1995.3" cy="821.4" rx="1.7" ry="1.7" fill="#9a9a9a"/>
<ellipse cx="1937.6" cy="837.5" rx="6" ry="6" fill="#000"/>
<ellipse cx="1937.6" cy="837.5" rx="1.7" ry="1.7" fill="#9a9a9a"/>
<ellipse cx="1927.5" cy="848.3" rx="2.5" ry="2.5" fill="#000"/>
<ellipse cx="1963.6" cy="853.6" rx="5.5" ry="4.5" fill="#000"/>
<ellipse cx="1998.4" cy="868.4" rx="5" ry="5" fill="#000"/>
<ellipse cx="2013.8" cy="881.8" rx="7" ry="6.5" fill="#000"/>
<ellipse cx="2013.8" cy="881.8" rx="2.0" ry="1.8" fill="#9a9a9a"/>
<ellipse cx="2079.7" cy="889.8" rx="6" ry="5.5" fill="#000"/>
<ellipse cx="2079.7" cy="889.8" rx="1.7" ry="1.5" fill="#9a9a9a"/>
<ellipse cx="2062.8" cy="908.6" rx="6" ry="6.5" fill="#000"/>
<ellipse cx="2062.8" cy="908.6" rx="1.7" ry="1.8" fill="#9a9a9a"/>
<ellipse cx="1982.4" cy="901.9" rx="2.5" ry="2.5" fill="#000"/>
<ellipse cx="1839.8" cy="996.5" rx="5" ry="5" fill="#000"/>
<ellipse cx="1835" cy="1040" rx="4" ry="4.5" fill="#000"/>
<ellipse cx="1897.4" cy="1042.1" rx="6.5" ry="6" fill="#000"/>
<ellipse cx="1897.4" cy="1042.1" rx="1.8" ry="1.7" fill="#9a9a9a"/>
<ellipse cx="1865.8" cy="1074" rx="7.5" ry="7" fill="#000"/>
<ellipse cx="1865.8" cy="1074" rx="2.1" ry="2.0" fill="#9a9a9a"/>
<ellipse cx="1839.5" cy="1127.6" rx="5.5" ry="5.5" fill="#000"/>
<ellipse cx="1839.5" cy="1127.6" rx="1.5" ry="1.5" fill="#9a9a9a"/>
<ellipse cx="1888.6" cy="1180.7" rx="3.5" ry="3.5" fill="#000"/>
<ellipse cx="1777.4" cy="853" rx="5" ry="5.5" fill="#000"/>
<ellipse cx="1801.5" cy="845.6" rx="6.5" ry="5.5" fill="#000"/>
<ellipse cx="1801.5" cy="845.6" rx="1.8" ry="1.5" fill="#9a9a9a"/>
<ellipse cx="1799.6" cy="855.7" rx="8.5" ry="5.5" fill="#000"/>
<ellipse cx="1799.6" cy="855.7" rx="2.4" ry="1.5" fill="#9a9a9a"/>
<ellipse cx="1785.7" cy="866" rx="5.5" ry="5" fill="#000"/>
<ellipse cx="1866.3" cy="860.8" rx="8.5" ry="6" fill="#000"/>
<ellipse cx="1866.3" cy="860.8" rx="2.4" ry="1.7" fill="#9a9a9a"/>
<ellipse cx="1905.2" cy="866" rx="7" ry="7" fill="#000"/>
<ellipse cx="1905.2" cy="866" rx="2.0" ry="2.0" fill="#9a9a9a"/>
<ellipse cx="1862.5" cy="880" rx="7" ry="6.5" fill="#000"/>
<ellipse cx="1862.5" cy="880" rx="2.0" ry="1.8" fill="#9a9a9a"/>
<ellipse cx="1869.5" cy="887.5" rx="6" ry="6.5" fill="#000"/>
<ellipse cx="1869.5" cy="887.5" rx="1.7" ry="1.8" fill="#9a9a9a"/>
<ellipse cx="1871" cy="876" rx="4" ry="4" fill="#000"/>
<ellipse cx="1848.5" cy="894.5" rx="8" ry="6" fill="#000"/>
<ellipse cx="1848.5" cy="894.5" rx="2.2" ry="1.7" fill="#9a9a9a"/>
<ellipse cx="1858.5" cy="901" rx="6.5" ry="6" fill="#000"/>
<ellipse cx="1858.5" cy="901" rx="1.8" ry="1.7" fill="#9a9a9a"/>
<ellipse cx="1829.3" cy="891.4" rx="4" ry="4" fill="#000"/>
<ellipse cx="1783.9" cy="898.8" rx="3" ry="3.5" fill="#000"/>
<ellipse cx="1801" cy="903" rx="6" ry="7" fill="#000"/>
<ellipse cx="1801" cy="903" rx="1.7" ry="2.0" fill="#9a9a9a"/>
<ellipse cx="1813.1" cy="903.9" rx="5" ry="6.5" fill="#000"/>
<ellipse cx="1807.5" cy="893.3" rx="2.5" ry="2" fill="#000"/>
<ellipse cx="1890.4" cy="893.3" rx="7" ry="7" fill="#000"/>
<ellipse cx="1890.4" cy="893.3" rx="2.0" ry="2.0" fill="#9a9a9a"/>
<ellipse cx="1908" cy="887.7" rx="5" ry="6" fill="#000"/>
<ellipse cx="1874.7" cy="899.3" rx="3" ry="3.5" fill="#000"/>
<ellipse cx="1902" cy="905.3" rx="3.5" ry="4" fill="#000"/>
<ellipse cx="1938.6" cy="910.9" rx="2.5" ry="2.5" fill="#000"/>
<ellipse cx="1923.8" cy="924.8" rx="5.5" ry="5.5" fill="#000"/>
<ellipse cx="1923.8" cy="924.8" rx="1.5" ry="1.5" fill="#9a9a9a"/>
<ellipse cx="1938.6" cy="922.4" rx="6.5" ry="6.5" fill="#000"/>
<ellipse cx="1938.6" cy="922.4" rx="1.8" ry="1.8" fill="#9a9a9a"/>
<ellipse cx="1827.5" cy="926" rx="7.5" ry="6.5" fill="#000"/>
<ellipse cx="1827.5" cy="926" rx="2.1" ry="1.8" fill="#9a9a9a"/>
<ellipse cx="1837" cy="921.5" rx="5.5" ry="5" fill="#000"/>
<ellipse cx="1813.5" cy="938" rx="5" ry="6" fill="#000"/>
<ellipse cx="1826" cy="940" rx="7" ry="6" fill="#000"/>
<ellipse cx="1826" cy="940" rx="2.0" ry="1.7" fill="#9a9a9a"/>
<ellipse cx="1823.5" cy="951" rx="7" ry="6" fill="#000"/>
<ellipse cx="1823.5" cy="951" rx="2.0" ry="1.7" fill="#9a9a9a"/>
<ellipse cx="1847.8" cy="928.5" rx="3" ry="5" fill="#000"/>
<ellipse cx="1866.5" cy="921.5" rx="6" ry="6" fill="#000"/>
<ellipse cx="1866.5" cy="921.5" rx="1.7" ry="1.7" fill="#9a9a9a"/>
<ellipse cx="1861.5" cy="932.5" rx="6.5" ry="6" fill="#000"/>
<ellipse cx="1861.5" cy="932.5" rx="1.8" ry="1.7" fill="#9a9a9a"/>
<ellipse cx="1881.2" cy="928" rx="5" ry="5" fill="#000"/>
<ellipse cx="1877.9" cy="940" rx="4.5" ry="4.5" fill="#000"/>
<ellipse cx="1846" cy="947.9" rx="4.5" ry="6.5" fill="#000"/>
<ellipse cx="1803.3" cy="947.5" rx="3" ry="3" fill="#000"/>
<ellipse cx="1808.4" cy="957.6" rx="3" ry="4.5" fill="#000"/>
<ellipse cx="1829.3" cy="963.7" rx="2.5" ry="2.5" fill="#000"/>
<ellipse cx="1840.4" cy="967.8" rx="3.5" ry="6.5" fill="#000"/>
<ellipse cx="1935.6" cy="684.7" rx="2.5" ry="2.5" fill="#999"/>
<ellipse cx="2048.3" cy="684.7" rx="1.5" ry="1.5" fill="#999"/>
<ellipse cx="1703.4" cy="846.1" rx="1.5" ry="1.5" fill="#999"/>
<ellipse cx="2073.6" cy="901.1" rx="1.5" ry="1.5" fill="#999"/>
<ellipse cx="1913.2" cy="992.2" rx="1.5" ry="1.5" fill="#999"/>
<text x="2178.60" y="456.00" font-family='"Liberation Sans", Arial, sans-serif' font-weight="normal" font-size="51.15" textLength="85.34" lengthAdjust="spacingAndGlyphs" fill="#111">105</text>
<text x="2178.69" y="590.80" font-family='"Liberation Sans", Arial, sans-serif' font-weight="normal" font-size="50.00" textLength="83.42" lengthAdjust="spacingAndGlyphs" fill="#111">110</text>
<text x="2178.56" y="734.10" font-family='"Liberation Sans", Arial, sans-serif' font-weight="normal" font-size="51.72" textLength="86.29" lengthAdjust="spacingAndGlyphs" fill="#111">115</text>
<text x="2178.55" y="871.80" font-family='"Liberation Sans", Arial, sans-serif' font-weight="normal" font-size="51.86" textLength="86.53" lengthAdjust="spacingAndGlyphs" fill="#111">120</text>
<text x="2178.70" y="1012.20" font-family='"Liberation Sans", Arial, sans-serif' font-weight="normal" font-size="49.86" textLength="83.18" lengthAdjust="spacingAndGlyphs" fill="#111">125</text>
<text x="2178.70" y="1149.90" font-family='"Liberation Sans", Arial, sans-serif' font-weight="normal" font-size="49.86" textLength="83.18" lengthAdjust="spacingAndGlyphs" fill="#111">130</text>
<text x="1512.93" y="1276.20" font-family='"Liberation Sans", Arial, sans-serif' font-weight="normal" font-size="52.56" textLength="56.56" lengthAdjust="spacingAndGlyphs" fill="#111">10</text>
<text x="1685.47" y="1276.20" font-family='"Liberation Sans", Arial, sans-serif' font-weight="normal" font-size="52.56" textLength="29.98" lengthAdjust="spacingAndGlyphs" fill="#111">9</text>
<text x="1849.37" y="1276.20" font-family='"Liberation Sans", Arial, sans-serif' font-weight="normal" font-size="52.56" textLength="28.56" lengthAdjust="spacingAndGlyphs" fill="#111">8</text>
<text x="2007.48" y="1276.20" font-family='"Liberation Sans", Arial, sans-serif' font-weight="normal" font-size="53.34" textLength="29.48" lengthAdjust="spacingAndGlyphs" fill="#111">7</text>
<text x="1728.37" y="1314.30" font-family='"Liberation Sans", Arial, sans-serif' font-weight="normal" font-size="36.92" textLength="19.97" lengthAdjust="spacingAndGlyphs" fill="#111">1</text>
<text x="1744.82" y="1329.50" font-family='"Liberation Sans", Arial, sans-serif' font-weight="normal" font-size="51.60" textLength="179.67" lengthAdjust="spacingAndGlyphs" fill="#111">H (ppm)</text>
<text transform="rotate(-90)" x="-902.89" y="2310.20" font-family='"Liberation Sans", Arial, sans-serif' font-weight="normal" font-size="51.19" textLength="180.19" lengthAdjust="spacingAndGlyphs" fill="#111">N (ppm)</text>
<text transform="rotate(-90)" x="-938.18" y="2295.10" font-family='"Liberation Sans", Arial, sans-serif' font-weight="normal" font-size="38.08" textLength="34.68" lengthAdjust="spacingAndGlyphs" fill="#111">15</text>
<text x="1731.48" y="1457.70" font-family='"Liberation Serif", "Times New Roman", serif' font-weight="normal" font-size="87.40" textLength="25.93" lengthAdjust="spacingAndGlyphs" fill="#000">(</text>
<text x="1759.74" y="1457.70" font-family='"Liberation Serif", "Times New Roman", serif' font-weight="bold" font-size="87.40" textLength="50.46" lengthAdjust="spacingAndGlyphs" fill="#000">B</text>
<text x="1813.64" y="1457.70" font-family='"Liberation Serif", "Times New Roman", serif' font-weight="normal" font-size="87.40" textLength="25.41" lengthAdjust="spacingAndGlyphs" fill="#000">)</text>
</g>
</svg></body></html>
